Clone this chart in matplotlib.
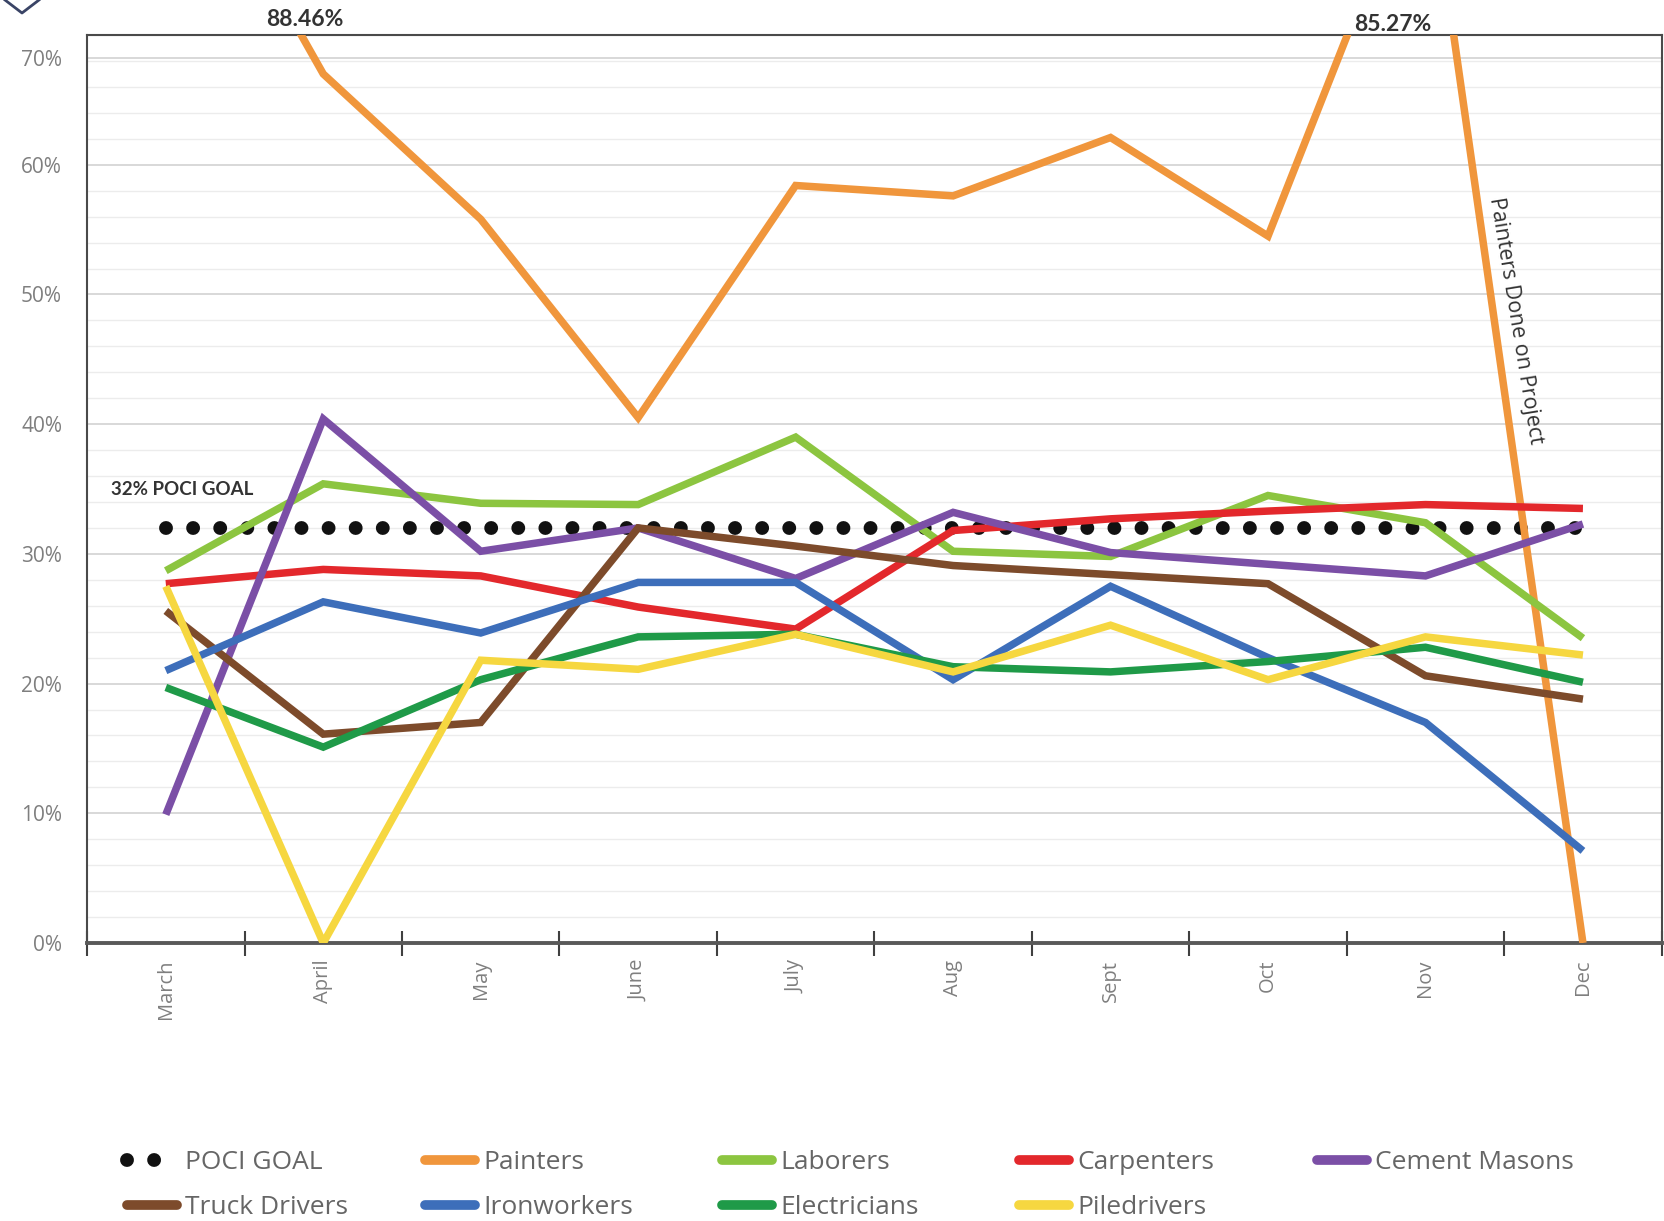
import matplotlib
matplotlib.use("Agg")
import matplotlib.pyplot as plt
from matplotlib.lines import Line2D
import numpy as np

months = ["March", "April", "May", "June", "July", "Aug", "Sept", "Oct", "Nov", "Dec"]
poci_goal = [32, 32, 32, 32, 32, 32, 32, 32, 32, 32]
painters = [88.46, 67.0, 55.8, 40.5, 58.4, 57.6, 62.1, 54.5, 85.27, 0.0]
laborers = [28.7, 35.4, 33.9, 33.8, 39.0, 30.2, 29.8, 34.5, 32.4, 23.5]
carpenters = [27.7, 28.8, 28.3, 25.9, 24.2, 31.8, 32.7, 33.3, 33.8, 33.5]
cement_masons = [9.9, 40.4, 30.2, 32.0, 28.1, 33.2, 30.1, 29.2, 28.3, 32.3]
truck_drivers = [25.6, 16.1, 17.0, 32.0, 30.6, 29.1, 28.4, 27.7, 20.6, 18.8]
ironworkers = [21.0, 26.3, 23.9, 27.8, 27.8, 20.3, 27.5, 22.0, 17.0, 7.1]
electricians = [19.7, 15.1, 20.3, 23.6, 23.8, 21.3, 20.9, 21.7, 22.8, 20.1]
piledrivers = [27.5, 0.0, 21.8, 21.1, 23.8, 20.9, 24.5, 20.3, 23.6, 22.2]
ytick_labels = ["0%", "10%", "20%", "30%", "40%", "50%", "60%", "70%"]

series = [
    ("Painters", painters, "#F0963C"),
    ("Laborers", laborers, "#8CC540"),
    ("Carpenters", carpenters, "#E3282C"),
    ("Cement Masons", cement_masons, "#7B4FA6"),
    ("Truck Drivers", truck_drivers, "#7D4B2B"),
    ("Ironworkers", ironworkers, "#3D6EBA"),
    ("Electricians", electricians, "#1F9A48"),
    ("Piledrivers", piledrivers, "#F6D740"),
]

FONT = ["Open Sans", "DejaVu Sans"]
plt.rcParams['font.family'] = FONT

fig = plt.figure(figsize=(16.65, 12.21), dpi=100)
ax = fig.add_axes([0.0523, 0.2277, 0.9457, 0.7436])
x = np.arange(len(months))

handles = {}
lw = 5.4
for name, vals, col in series:
    ln, = ax.plot(x, vals, color=col, lw=lw, solid_joinstyle='miter', zorder=3,
                  solid_capstyle='butt')
    handles[name] = ln

goal, = ax.plot(x, poci_goal, color="#111111", lw=10, linestyle=(0, (0.001, 1.95)),
                dash_capstyle='round', zorder=2)
handles["POCI GOAL"] = goal

ax.set_xlim(-0.5, len(months) - 0.5)
ax.set_ylim(0, 70)

# gridlines
ax.set_yticks(np.arange(0, 71, 2), minor=True)
ax.set_yticks([0, 10, 20, 30, 40, 50, 60, 68.2])
ax.set_yticklabels(ytick_labels, color="#7f7f7f", fontsize=15)
ax.yaxis.grid(True, which='major', color="#d6d6d6", lw=1.3, zorder=0)
ax.yaxis.grid(True, which='minor', color="#ececec", lw=1.0, zorder=0)
ax.tick_params(axis='y', which='both', length=0, pad=18)
ax.set_axisbelow(True)

# x ticks at category boundaries, labels at centres
ax.set_xticks(np.arange(-0.5, len(months), 1.0))
ax.set_xticklabels([])
ax.tick_params(axis='x', which='major', direction='inout', length=18, width=1.5,
               color="#404040")
ax.set_xticks(x, minor=True)
ax.set_xticklabels(months, minor=True, rotation=90, color="#7f7f7f", fontsize=14.5)
ax.tick_params(axis='x', which='minor', length=0, pad=12)

for side in ['top', 'right', 'left']:
    ax.spines[side].set_color("#4a4a4a")
    ax.spines[side].set_linewidth(1.5)
ax.spines['bottom'].set_color("#595959")
ax.spines['bottom'].set_linewidth(2.8)

# annotations
ax.text(-0.35, 35.0, "32% POCI GOAL", fontsize=13.5, fontweight='bold', color="#333333",
        va='center', ha='left', family=["Lato", "DejaVu Sans"])
ax.text(0.88, 70.4, "88.46%", fontsize=16.5, fontweight='bold', color="#333333",
        ha='center', va='bottom', clip_on=False, family=["Lato", "DejaVu Sans"])
ax.text(7.79, 70.0, "85.27%", fontsize=16.5, fontweight='bold', color="#333333",
        ha='center', va='bottom', clip_on=False, family=["Lato", "DejaVu Sans"])
ax.text(8.575, 48.0, "Painters Done on Project", fontsize=15.5, color="#333333",
        rotation=-80.7, rotation_mode='anchor', ha='center', va='center')

# small diamond artifact top-left
fig.add_artist(Line2D([5 / 1665, 22 / 1665, 39 / 1665], [1.0 - 0 / 1221, 1.0 - 13 / 1221, 1.0],
                      color="#3a4466", lw=2.0, transform=fig.transFigure))

# legend laid out row-wise in five columns
columns = [["POCI GOAL", "Truck Drivers"], ["Painters", "Ironworkers"],
           ["Laborers", "Electricians"], ["Carpenters", "Piledrivers"], ["Cement Masons"]]
col_x = [127, 425, 722, 1019, 1317]
for names, cx in zip(columns, col_x):
    leg = fig.legend([handles[n] for n in names], names, loc='upper left',
                     bbox_to_anchor=(cx / 1665, 1 - 1150 / 1221), frameon=False,
                     fontsize=19, handlelength=1.9, handletextpad=0.3, labelspacing=0.75,
                     borderpad=0, borderaxespad=0)
    for t in leg.get_texts():
        t.set_color("#666666")
    for h in leg.legend_handles:
        if h.get_label() != "POCI GOAL" and h.get_linestyle() == '-':
            h.set_linewidth(7)
            h.set_solid_capstyle('round')

fig.savefig("out.png", dpi=100, facecolor="white")
